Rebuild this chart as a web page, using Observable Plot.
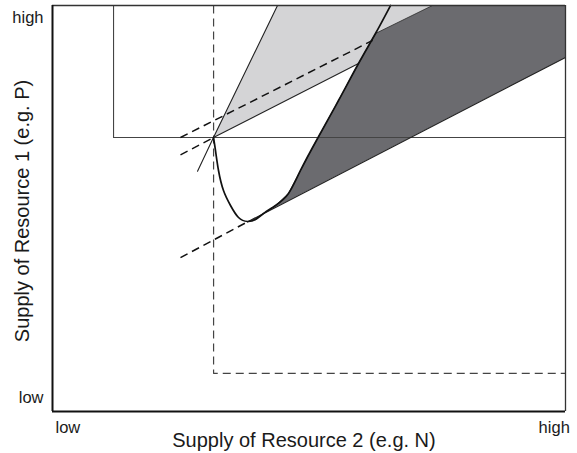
<!DOCTYPE html>
<html>
<head>
<meta charset="utf-8">
<script src="https://cdn.jsdelivr.net/npm/d3@7"></script>
<script src="https://cdn.jsdelivr.net/npm/@observablehq/plot@0.6"></script>
<style>
  html, body { margin: 0; padding: 0; background: #fff; }
  #chart { width: 577px; height: 453px; }
</style>
</head>
<body>
<div id="chart"></div>
<script>
// Axis labels
const xTitle = "Supply of Resource 2 (e.g. N)";
const yTitle = "Supply of Resource 1 (e.g. P)";
const xTickPos = [3.0, 97.8];
const xTickText = ["low", "high"];
const yTickPos = [3.5, 96.9];
const yTickText = ["low", "high"];

// ZNGIs (zero net growth isoclines), [x, y] in 0–100 supply units
const zngi1 = [[11.9, 100], [11.9, 67.5], [100, 67.5]];
const zngi2 = [[31.4, 100], [31.4, 9.4], [100, 9.4]];

// Consumption vectors through the equilibrium point
const vectorSteep = [[28.27, 59.2], [31.38, 67.49], [43.86, 100]];
const vectorShallow = [[31.38, 67.49], [59.65, 85.71]];
const vectorShallowBack = [[24.95, 63.2], [31.38, 67.49]];

// Dashed lines
const upperDashed = [[24.95, 67.49], [62.4, 91.4]];
const lowerDashed = [[24.95, 37.9], [38.0, 46.7]];
const lowerSolid = [[38.0, 46.7], [100, 87.2]];
const darkTop = [[62.96, 93.1], [74.07, 100]];

// Curved boundary
const curve = [
  [31.38, 67.49], [31.77, 64.29], [32.36, 59.36], [33.33, 54.43], [34.70, 50.74],
  [36.26, 47.78], [38.01, 46.80], [39.57, 47.29], [41.13, 48.77], [43.47, 50.74],
  [46.00, 53.69], [48.34, 59.36], [51.66, 67.24], [55.75, 76.60], [59.65, 85.71],
  [62.96, 93.10], [65.89, 100.0]
];

// Shaded regions
const lightRegion = [[31.38, 67.49], [43.86, 100], [81.8, 100]];
const darkCorners = [[100, 100], [100, 87.2]];
const darkRegion = [...curve.slice(6, 16), ...darkTop.slice(1), ...darkCorners];

const X = d => d[0], Y = d => d[1];
const dash = "8,5";

const chart = Plot.plot({
  width: 577,
  height: 453,
  marginLeft: 52,
  marginRight: 12,
  marginTop: 5,
  marginBottom: 42,
  x: { domain: [0, 100] },
  y: { domain: [0, 100] },
  style: { fontFamily: "'Liberation Sans', Arial, Helvetica, sans-serif", color: "#1a1a1a", background: "#fff" },
  marks: [
    Plot.line(lightRegion, { x: X, y: Y, fill: "#d4d4d6", stroke: "none" }),
    Plot.line(darkRegion, { x: X, y: Y, fill: "#6b6b6f", stroke: "#2a2a2a", strokeWidth: 0.8, curve: "linear" }),
    Plot.line(zngi1, { x: X, y: Y, stroke: "#444", strokeWidth: 1.1 }),
    Plot.line(zngi2, { x: X, y: Y, stroke: "#444", strokeWidth: 1.2, strokeDasharray: dash, strokeLinecap: "butt" }),
    Plot.line(vectorSteep, { x: X, y: Y, stroke: "#222", strokeWidth: 1.1 }),
    Plot.line(vectorShallow, { x: X, y: Y, stroke: "#222", strokeWidth: 1.1 }),
    Plot.line(vectorShallowBack, { x: X, y: Y, stroke: "#111", strokeWidth: 1.4, strokeDasharray: dash, strokeLinecap: "butt" }),
    Plot.line(upperDashed, { x: X, y: Y, stroke: "#111", strokeWidth: 1.5, strokeDasharray: dash, strokeLinecap: "butt" }),
    Plot.line(lowerDashed, { x: X, y: Y, stroke: "#111", strokeWidth: 1.5, strokeDasharray: dash, strokeLinecap: "butt" }),
    Plot.line(lowerSolid, { x: X, y: Y, stroke: "#222", strokeWidth: 1.1 }),
    Plot.line(curve, { x: X, y: Y, stroke: "#111", strokeWidth: 1.7, curve: "natural" }),
    // frame
    Plot.ruleX([100], { stroke: "#333", strokeWidth: 1.3 }),
    Plot.ruleY([100], { stroke: "#333", strokeWidth: 1.3 }),
    Plot.ruleX([0], { stroke: "#111", strokeWidth: 2 }),
    Plot.ruleY([0], { stroke: "#111", strokeWidth: 2 }),
    // ticks
    Plot.axisX({ ticks: xTickPos, tickFormat: (d, i) => xTickText[i], tickSize: 0, tickPadding: 10, fontSize: 16.5, label: null }),
    Plot.axisY({ ticks: yTickPos, tickFormat: (d, i) => yTickText[i], tickSize: 0, tickPadding: 9, fontSize: 16.5, label: null }),
    // titles
    Plot.text([xTitle], { text: d => d, frameAnchor: "bottom", textAnchor: "middle", dy: 35, dx: -5, lineAnchor: "bottom", fontSize: 20, fill: "#1a1a1a" }),
    Plot.text([yTitle], { text: d => d, frameAnchor: "left", textAnchor: "middle", dx: -24, dy: 2.5, rotate: -90, lineAnchor: "bottom", fontSize: 20, fill: "#1a1a1a" })
  ]
});
document.getElementById("chart").appendChild(chart);
</script>
</body>
</html>
